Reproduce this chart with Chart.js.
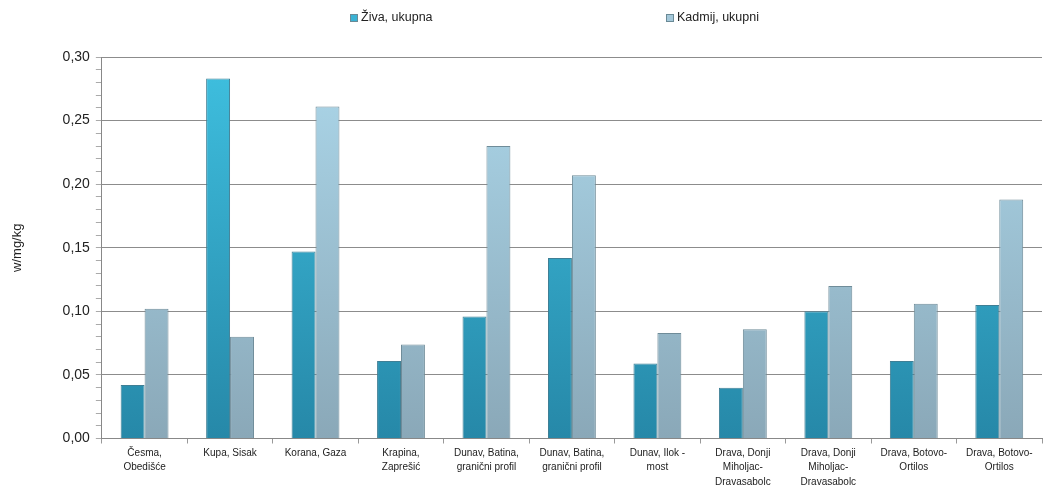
<!DOCTYPE html>
<html>
<head>
<meta charset="utf-8">
<script src="https://cdn.jsdelivr.net/npm/chart.js@4"></script>
<style>
  html, body { margin: 0; padding: 0; background: #fff; }
  #wrap { width: 1043px; height: 491px; }
</style>
</head>
<body>
<div id="wrap"><canvas id="chart" width="1043" height="491"></canvas></div>
<script>
// Sampling sites (x categories)
const sites = [
  ['Česma,', 'Obedišće'],
  'Kupa, Sisak',
  'Korana, Gaza',
  ['Krapina,', 'Zaprešić'],
  ['Dunav, Batina,', 'granični profil'],
  ['Dunav, Batina,', 'granični profil'],
  ['Dunav, Ilok -', 'most'],
  ['Drava, Donji', 'Miholjac-', 'Dravasabolc'],
  ['Drava, Donji', 'Miholjac-', 'Dravasabolc'],
  ['Drava, Botovo-', 'Ortilos'],
  ['Drava, Botovo-', 'Ortilos']
];

// values in mg/kg
const zivaUkupna = [0.042, 0.283, 0.147, 0.061, 0.096, 0.142, 0.059, 0.040, 0.100, 0.061, 0.105];
const kadmijUkupni = [0.102, 0.080, 0.261, 0.074, 0.230, 0.207, 0.083, 0.086, 0.120, 0.106, 0.188];

const yMin = 0;
const yMax = 0.30;

// legend swatches
const legendColors = ['#3ab2d4', '#a4c8da'];

// vertical gradient over the chart area
function barGradient(top, bottom) {
  return function(context) {
    const area = context.chart.chartArea;
    if (!area) return bottom;
    const g = context.chart.ctx.createLinearGradient(0, area.top, 0, area.bottom);
    g.addColorStop(0, top);
    g.addColorStop(1, bottom);
    return g;
  };
}

const fmt = v => v.toFixed(2).replace('.', ',');
const isMajor = v => Math.abs(Math.round(v * 100) % 5) === 0;

// wide-spaced legend at the top, like the original spreadsheet chart
const spreadLegend = {
  id: 'spreadLegend',
  afterDraw(chart) {
    const ctx = chart.ctx;
    const xs = [350, 666];
    const y = 18;
    ctx.save();
    ctx.font = '12.5px "Liberation Sans"';
    ctx.textBaseline = 'middle';
    chart.data.datasets.forEach((ds, i) => {
      ctx.fillStyle = legendColors[i];
      ctx.strokeStyle = '#6a8a96';
      ctx.lineWidth = 1;
      ctx.fillRect(xs[i], y - 4, 8, 8);
      ctx.strokeRect(xs[i] + 0.5, y - 3.5, 7, 7);
      ctx.fillStyle = '#222';
      ctx.fillText(ds.label, xs[i] + 11, y);
    });
    ctx.restore();
  }
};

new Chart(document.getElementById('chart'), {
  type: 'bar',
  data: {
    labels: sites,
    datasets: [
      {
        label: 'Živa, ukupna',
        data: zivaUkupna,
        backgroundColor: barGradient('#3fc0e0', '#2688a8'),
        borderColor: '#3f7f95',
        borderWidth: 1,
        categoryPercentage: 0.56,
        barPercentage: 1.0
      },
      {
        label: 'Kadmij, ukupni',
        data: kadmijUkupni,
        backgroundColor: barGradient('#acd7ea', '#8aa8b8'),
        borderColor: '#6f8c99',
        borderWidth: 1,
        categoryPercentage: 0.56,
        barPercentage: 1.0
      }
    ]
  },
  plugins: [spreadLegend],
  options: {
    responsive: false,
    animation: false,
    layout: { padding: { left: 10, right: 1, top: 57, bottom: 0 } },
    plugins: {
      legend: { display: false },
      tooltip: { enabled: false }
    },
    scales: {
      x: {
        grid: {
          offset: true,
          drawOnChartArea: false,
          tickLength: 5,
          tickColor: '#999'
        },
        border: { color: '#888' },
        ticks: {
          maxRotation: 0,
          autoSkip: false,
          color: '#222',
          padding: 2,
          font: { family: 'Liberation Sans', size: 10, lineHeight: 1.45 }
        }
      },
      y: {
        min: yMin,
        max: yMax,
        title: {
          display: true,
          text: 'w/mg/kg',
          color: '#222',
          padding: { top: 0, bottom: 31 },
          font: { family: 'Liberation Sans', size: 13 }
        },
        grid: {
          color: ctx => isMajor(ctx.tick.value) ? '#8c8c8c' : 'rgba(0,0,0,0)',
          tickColor: '#aaa',
          tickLength: 6,
          lineWidth: 1
        },
        border: { color: '#888' },
        ticks: {
          stepSize: 0.01,
          autoSkip: false,
          color: '#222',
          padding: 6,
          font: { family: 'Liberation Sans', size: 14 },
          callback: v => isMajor(v) ? fmt(v) : ''
        }
      }
    }
  }
});
</script>
</body>
</html>
